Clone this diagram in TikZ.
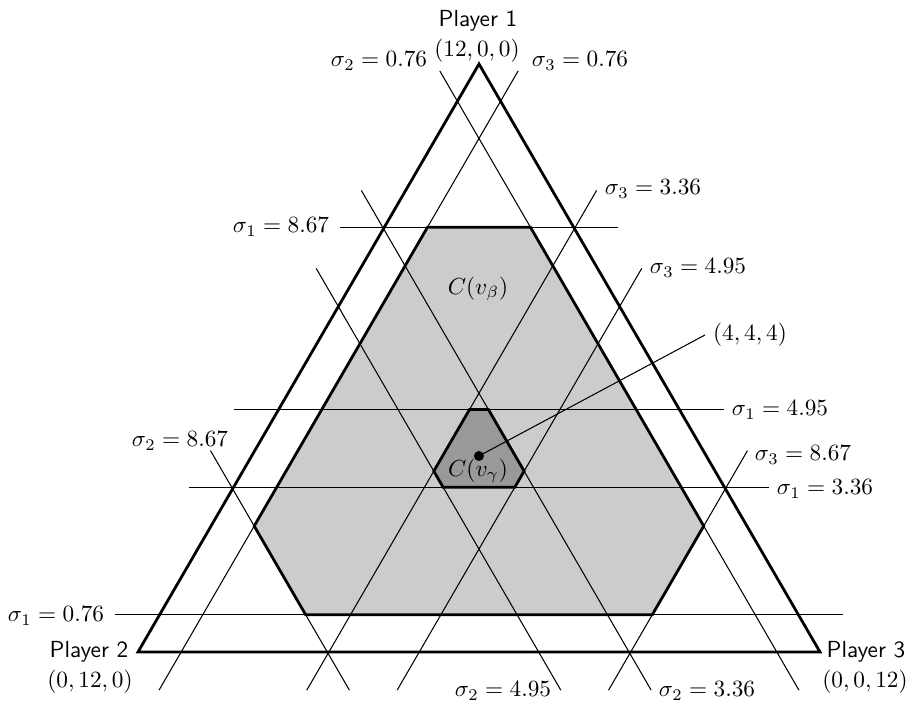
\documentclass[tikz,border=0pt]{standalone}
\usetikzlibrary{calc}
\begin{document}
\begin{tikzpicture}[x=0.43pt,y=-0.43pt,
  thinline/.style={line width=0.45pt},
  border/.style={line width=1.2pt, line join=miter},
  lab/.style={inner sep=0pt},
  plab/.style={inner sep=0pt, font=\sffamily},
  lightfill/.style={fill=black!20},
  darkfill/.style={fill=black!40}]
\useasboundingbox (0,0) rectangle (906,704);
\coordinate (P1) at (479,64);
\coordinate (P2) at (138,652);
\coordinate (P3) at (820,652);

% light hexagon C(v_beta)
\coordinate (L1) at (barycentric cs:P1=8.67,P2=2.57,P3=0.76);
\coordinate (L2) at (barycentric cs:P1=8.67,P2=0.76,P3=2.57);
\coordinate (L3) at (barycentric cs:P1=2.57,P2=0.76,P3=8.67);
\coordinate (L4) at (barycentric cs:P1=0.76,P2=2.57,P3=8.67);
\coordinate (L5) at (barycentric cs:P1=0.76,P2=8.67,P3=2.57);
\coordinate (L6) at (barycentric cs:P1=2.57,P2=8.67,P3=0.76);
\fill[lightfill] (L1) -- (L2) -- (L3) -- (L4) -- (L5) -- (L6) -- cycle;

% dark hexagon C(v_gamma)
\coordinate (D1) at (barycentric cs:P1=4.95,P2=3.69,P3=3.36);
\coordinate (D2) at (barycentric cs:P1=4.95,P2=3.36,P3=3.69);
\coordinate (D3) at (barycentric cs:P1=3.69,P2=3.36,P3=4.95);
\coordinate (D4) at (barycentric cs:P1=3.36,P2=3.69,P3=4.95);
\coordinate (D5) at (barycentric cs:P1=3.36,P2=4.95,P3=3.69);
\coordinate (D6) at (barycentric cs:P1=3.69,P2=4.95,P3=3.36);
\fill[darkfill] (D1) -- (D2) -- (D3) -- (D4) -- (D5) -- (D6) -- cycle;

% sigma lines (top extension, bottom extension)
\foreach \c/\i/\t in {8.67/a/0.78,4.95/b/0.78,3.36/c/0.78,0.76/d/0.62}{
  \pgfmathsetmacro\r{12-\c+0.78}
  \pgfmathsetmacro\q{12-\c+\t}
  \pgfmathsetmacro\n{-\t}
  \coordinate (h\i1) at (barycentric cs:P1=\c,P2=-0.78,P3=\r);
  \coordinate (h\i2) at (barycentric cs:P1=\c,P2=\r,P3=-0.78);
  \draw[thinline] (h\i1) -- (h\i2);
  \coordinate (u\i1) at (barycentric cs:P1=\q,P2=\c,P3=\n);
  \coordinate (u\i2) at (barycentric cs:P1=-0.78,P2=\c,P3=\r);
  \draw[thinline] (u\i1) -- (u\i2);
  \coordinate (w\i1) at (barycentric cs:P1=\q,P2=\n,P3=\c);
  \coordinate (w\i2) at (barycentric cs:P1=-0.78,P2=\r,P3=\c);
  \draw[thinline] (w\i1) -- (w\i2);
}

% hexagon borders
\draw[border] (L1) -- (L2) -- (L3) -- (L4) -- (L5) -- (L6) -- cycle;
\draw[border] (D1) -- (D2) -- (D3) -- (D4) -- (D5) -- (D6) -- cycle;

% triangle
\draw[border] (P1) -- (P2) -- (P3) -- cycle;

% centre point
\node[circle, fill=black, inner sep=0pt, minimum size=4.3pt] (dot) at (barycentric cs:P1=4,P2=4,P3=4) {};
\node[anchor=west] (lab444) at (705,335) {$(4,4,4)$};
\draw[thinline] (dot.center) -- (lab444.west);

% region labels
\node[lab] (cb) at (478,289) {$C(v_\beta)$};
\node[lab] (cg) at (478,471) {$C(v_\gamma)$};

% player labels
\node[plab] (pl1) at (478,21) {Player 1};
\node[lab] (pc1) at (477,51) {$(12,0,0)$};
\node[plab] (pl2) at (89,652) {Player 2};
\node[lab] (pc2) at (90,682) {$(0,12,0)$};
\node[plab] (pl3) at (866,652) {Player 3};
\node[lab] (pc3) at (865,682) {$(0,0,12)$};

% sigma labels
\node[lab] (la1) at (281,227) {$\sigma_1 = 8.67$};
\node[lab] (lb1) at (780,410) {$\sigma_1 = 4.95$};
\node[lab] (lc1) at (825,489) {$\sigma_1 = 3.36$};
\node[lab] (ld1) at (56,616) {$\sigma_1 = 0.76$};
\node[lab] (ld2) at (379,61) {$\sigma_2 = 0.76$};
\node[lab] (la2) at (180,441) {$\sigma_2 = 8.67$};
\node[lab] (lb2) at (503,691) {$\sigma_2 = 4.95$};
\node[lab] (lc2) at (707,691) {$\sigma_2 = 3.36$};
\node[lab] (ld3) at (580,61) {$\sigma_3 = 0.76$};
\node[lab] (lc3) at (653,189) {$\sigma_3 = 3.36$};
\node[lab] (lb3) at (698,268) {$\sigma_3 = 4.95$};
\node[lab] (la3) at (803,455) {$\sigma_3 = 8.67$};
\end{tikzpicture}
\end{document}
